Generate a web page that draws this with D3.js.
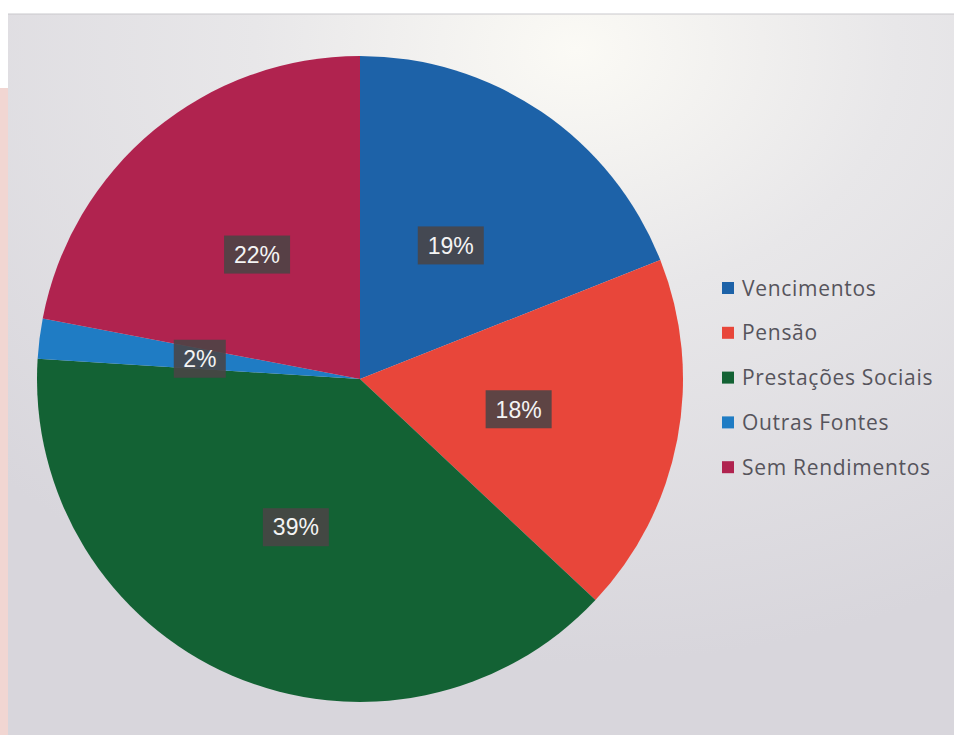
<!DOCTYPE html>
<html>
<head>
<meta charset="utf-8">
<script src="https://cdn.jsdelivr.net/npm/d3@7"></script>
<style>
  body { margin: 0; background: #ffffff; }
  svg { display: block; }
</style>
</head>
<body>
<div id="chart"></div>
<script>
// dados
var categorias = ["Vencimentos", "Pensão", "Prestações Sociais", "Outras Fontes", "Sem Rendimentos"];
var percentagens = [19, 18, 39, 2, 22];
var cores = ["#1d62a8", "#e8463a", "#136234", "#1f7cc4", "#b0234f"];

var largura = 954, altura = 735;
var cx = 360, cy = 379, raio = 323;

var svg = d3.select("#chart")
			.append("svg")
			.attr("width", largura)
			.attr("height", altura);

var defs = svg.append("defs");
var grad = defs.append("radialGradient")
			.attr("id", "fundo")
			.attr("cx", "0.6").attr("cy", "0.05").attr("r", "0.85");
grad.append("stop").attr("offset", "0%").attr("stop-color", "#fbfaf5");
grad.append("stop").attr("offset", "40%").attr("stop-color", "#e8e7e9");
grad.append("stop").attr("offset", "100%").attr("stop-color", "#d8d6dc");

// faixa rosa à esquerda e fundo do gráfico
svg.append("rect")
	.attr("x", 0).attr("y", 88)
	.attr("width", 10).attr("height", altura - 88)
	.attr("fill", "#f1d6d2");

svg.append("rect")
	.attr("x", 8).attr("y", 14)
	.attr("width", largura - 8).attr("height", altura - 14)
	.attr("fill", "url(#fundo)");

svg.append("line")
	.attr("x1", 8).attr("x2", largura)
	.attr("y1", 14).attr("y2", 14)
	.attr("stroke", "#c9c8cc").attr("stroke-width", 1);

var cor = d3.scaleOrdinal()
			.domain(categorias)
			.range(cores);

var pie = d3.pie()
			.sort(null)
			.value(function(d){ return d.valor; });

var dados = categorias.map(function(c, i){
	return { nome: c, valor: percentagens[i] };
});

var arco = d3.arc().innerRadius(0).outerRadius(raio);
var arcoLabel = d3.arc().innerRadius(raio * 0.5).outerRadius(raio * 0.5);

var g = svg.append("g")
			.attr("transform", "translate(" + cx + "," + cy + ")");

var fatias = pie(dados);

g.selectAll("path")
	.data(fatias)
	.enter()
	.append("path")
	.attr("d", arco)
	.attr("fill", function(d){ return cor(d.data.nome); });

// etiquetas
var etiquetas = g.selectAll("g.etiqueta")
			.data(fatias)
			.enter()
			.append("g")
			.attr("class", "etiqueta")
			.attr("transform", function(d){
				var c = arcoLabel.centroid(d);
				return "translate(" + c[0] + "," + c[1] + ")";
			});

etiquetas.append("rect")
	.attr("x", function(d){ return d.data.valor < 10 ? -26 : -33; })
	.attr("y", -19)
	.attr("width", function(d){ return d.data.valor < 10 ? 52 : 66; })
	.attr("height", 38)
	.attr("fill", "#4a4446")
	.attr("fill-opacity", 0.88);

etiquetas.append("text")
	.attr("text-anchor", "middle")
	.attr("dy", "0.36em")
	.attr("font-family", "Liberation Sans, Arial, sans-serif")
	.attr("font-size", 23)
	.attr("fill", "#f4f4f4")
	.text(function(d){ return d.data.valor + "%"; });

// legenda
var legenda = svg.append("g")
			.attr("transform", "translate(722,288)");

var itens = legenda.selectAll("g")
			.data(categorias)
			.enter()
			.append("g")
			.attr("transform", function(d, i){
				return "translate(0," + (i * 44.8) + ")";
			});

itens.append("rect")
	.attr("x", 0).attr("y", -6)
	.attr("width", 12).attr("height", 12)
	.attr("fill", function(d){ return cor(d); });

itens.append("text")
	.attr("x", 20)
	.attr("dy", "0.36em")
	.attr("font-family", "Open Sans, Liberation Sans, sans-serif")
	.attr("font-size", 21)
	.attr("letter-spacing", 0.7)
	.attr("fill", "#56545c")
	.text(function(d){ return d; });
</script>
</body>
</html>
